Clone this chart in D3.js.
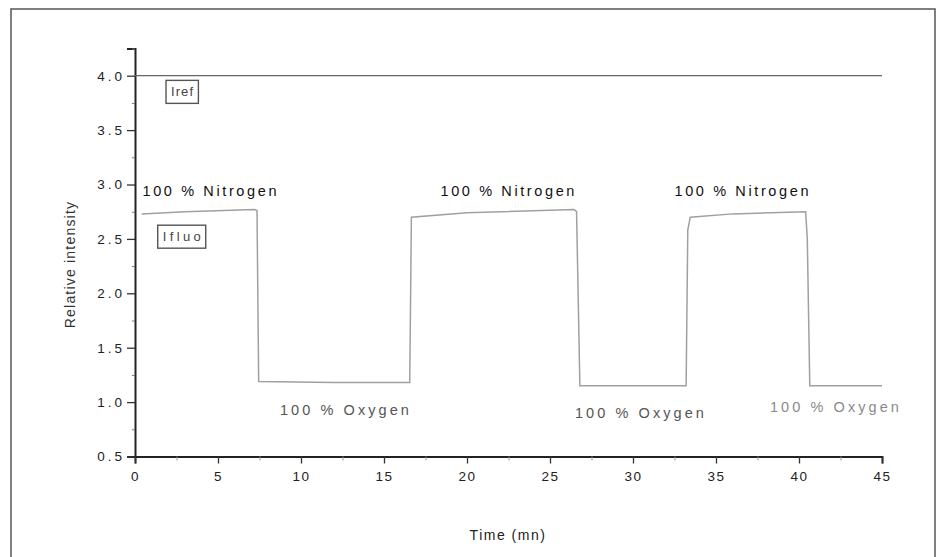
<!DOCTYPE html>
<html>
<head>
<meta charset="utf-8">
<script src="https://cdn.jsdelivr.net/npm/d3@7"></script>
<style>
  html, body { margin: 0; padding: 0; background: #fff; }
  svg { display: block; font-family: "Liberation Sans", Arial, sans-serif; }
</style>
</head>
<body>
<svg id="chart" width="937" height="557"></svg>
<script>
// Reference intensity (constant) and fluorescence intensity over time
const refTime  = [0, 45];
const refValue = [4.0, 4.0];

const fluoTime  = [0.4, 3.0, 7.2, 7.35, 7.45, 12.0, 16.55, 16.65, 20.0, 26.45, 26.6, 26.8, 33.2, 33.3, 33.45, 36.0, 40.4, 40.5, 40.65, 45.0];
const fluoValue = [2.73, 2.75, 2.77, 2.76, 1.19, 1.18, 1.18, 2.70, 2.74, 2.77, 2.75, 1.15, 1.15, 2.58, 2.70, 2.73, 2.75, 2.5, 1.15, 1.15];

const xTicks = [0, 5, 10, 15, 20, 25, 30, 35, 40, 45];
const yTicks = [0.5, 1.0, 1.5, 2.0, 2.5, 3.0, 3.5, 4.0];
const xMinor = [2.5, 7.5, 12.5, 17.5, 22.5, 27.5, 32.5, 37.5, 42.5];
const yMinor = [0.75, 1.25, 1.75, 2.25, 2.75, 3.25, 3.75, 4.25];

// Condition annotations: [time, value, text]
const nitrogenLabels = [[0.45, 2.895, "100 % Nitrogen"], [18.4, 2.895, "100 % Nitrogen"], [32.5, 2.895, "100 % Nitrogen"]];
const oxygenLabels   = [[8.73, 0.881, "100 % Oxygen"], [26.5, 0.853, "100 % Oxygen"], [38.25, 0.908, "100 % Oxygen"]];
// Series tags: [time, value, text, text width]
const seriesTags     = [[2.17, 3.81, "Iref", 22], [1.67, 2.479, "Ifluo", 38]];

const svg = d3.select("#chart");

// outer frame
svg.append("rect")
  .attr("x", 11).attr("y", 9).attr("width", 924).attr("height", 570)
  .attr("fill", "none").attr("stroke", "#555").attr("stroke-width", 1.5);

const x = d3.scaleLinear().domain([0, 45]).range([135, 882]);
const y = d3.scaleLinear().domain([0.5, 4.25]).range([456.5, 48.5]);

const g = svg.append("g");

// y axis
const yAxis = d3.axisLeft(y).tickValues(yTicks).tickFormat(d3.format(".1f")).tickSize(8).tickPadding(2);
const gy = g.append("g").attr("transform", `translate(${x(0)},0)`).call(yAxis);
gy.select(".domain").attr("stroke", "#222").attr("stroke-width", 2);
gy.selectAll(".tick line").attr("stroke", "#333").attr("stroke-width", 1.3);
gy.selectAll(".tick text").attr("font-size", 13.5).attr("fill", "#222").attr("letter-spacing", "3px")
  .attr("font-family", "Liberation Sans, Arial, sans-serif");
g.append("g").attr("transform", `translate(${x(0)},0)`)
  .call(d3.axisLeft(y).tickValues(yMinor).tickSize(3).tickFormat(""))
  .call(s => s.select(".domain").remove())
  .selectAll("line").attr("stroke", "#777");

// x axis
const xAxis = d3.axisBottom(x).tickValues(xTicks).tickFormat(d3.format("d")).tickSize(7).tickPadding(8);
const gx = g.append("g").attr("transform", `translate(0,${y(0.5)})`).call(xAxis);
gx.select(".domain").attr("stroke", "#222").attr("stroke-width", 2);
gx.selectAll(".tick line").attr("stroke", "#333").attr("stroke-width", 1.3);
gx.selectAll(".tick text").attr("font-size", 13.5).attr("fill", "#222").attr("letter-spacing", "1.5px")
  .attr("font-family", "Liberation Sans, Arial, sans-serif");
g.append("g").attr("transform", `translate(0,${y(0.5)})`)
  .call(d3.axisBottom(x).tickValues(xMinor).tickSize(4).tickFormat(""))
  .call(s => s.select(".domain").remove())
  .selectAll("line").attr("stroke", "#999");

// axis titles
svg.append("text")
  .attr("transform", `translate(75,${(y(0.5) + y(4.25)) / 2 + 12}) rotate(-90)`)
  .attr("text-anchor", "middle").attr("font-size", 14).attr("fill", "#333").attr("letter-spacing", "1.2px")
  .text("Relative intensity");
svg.append("text")
  .attr("x", 508).attr("y", 540)
  .attr("text-anchor", "middle").attr("font-size", 14).attr("fill", "#222").attr("letter-spacing", "1.5px")
  .text("Time (mn)");

// series lines
const line = d3.line().x(d => x(d[0])).y(d => y(d[1]));

g.append("path")
  .datum(d3.zip(refTime, refValue))
  .attr("d", line).attr("fill", "none")
  .attr("stroke", "#666").attr("stroke-width", 1.3);

g.append("path")
  .datum(d3.zip(fluoTime, fluoValue))
  .attr("d", line).attr("fill", "none")
  .attr("stroke", "#a0a0a0").attr("stroke-width", 1.5);

// series tags in boxes
const tagLayer = svg.append("g");
seriesTags.forEach(([t, v, s, w]) => {
  const tx = tagLayer.append("text")
    .attr("x", x(t)).attr("y", y(v))
    .attr("font-size", 13).attr("fill", "#444")
    .attr("textLength", w).attr("lengthAdjust", "spacing")
    .text(s);
  const b = tx.node().getBBox();
  tagLayer.append("rect")
    .attr("x", b.x - 5).attr("y", b.y - 4).attr("width", b.width + 10).attr("height", b.height + 8)
    .attr("fill", "none").attr("stroke", "#555").attr("stroke-width", 1.4);
});

// condition annotations
nitrogenLabels.forEach(([t, v, s]) => {
  svg.append("text").attr("x", x(t)).attr("y", y(v))
    .attr("font-size", 14.5).attr("fill", "#111")
    .attr("textLength", 134).attr("lengthAdjust", "spacing")
    .text(s);
});
oxygenLabels.forEach(([t, v, s], i) => {
  svg.append("text").attr("x", x(t)).attr("y", y(v))
    .attr("font-size", 14.5).attr("fill", i === 2 ? "#8a8a8a" : "#555")
    .attr("textLength", 129).attr("lengthAdjust", "spacing")
    .text(s);
});
</script>
</body>
</html>
